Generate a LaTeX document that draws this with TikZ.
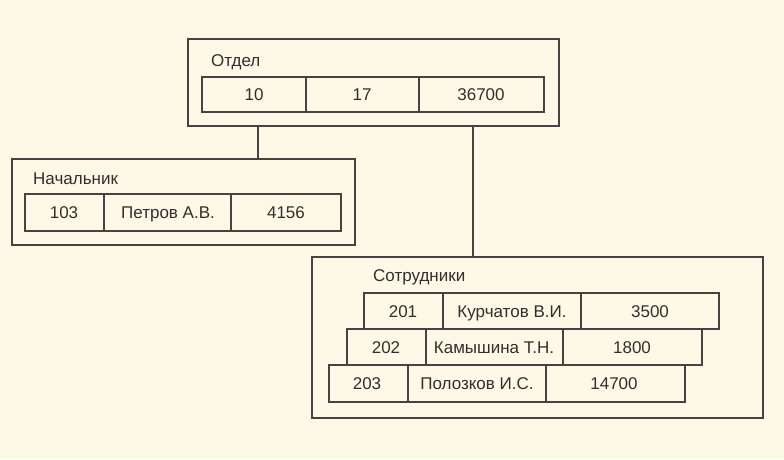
\documentclass[tikz,border=0pt]{standalone}
\usepackage{fontspec}
\setmainfont{Liberation Sans}
\definecolor{paper}{HTML}{FCFAE6}
\definecolor{ink}{HTML}{4A4242}
\definecolor{txt}{HTML}{332D2D}
\begin{document}
\begin{tikzpicture}[x=1pt,y=-1pt,
  frame/.style={draw=ink,line width=1.6pt},
  cellbox/.style={draw=ink,line width=1.3pt},
  conn/.style={draw=ink,line width=1.5pt},
  lbl/.style={text=txt,font=\fontsize{17}{19}\selectfont,anchor=base west,inner sep=0pt},
  val/.style={text=txt,font=\fontsize{17}{19}\selectfont,anchor=base,inner sep=0pt}]
\fill[paper] (0,0) rectangle (784,459);
\useasboundingbox (0,0) rectangle (784,459);
% Отдел
\coordinate (o1) at (188,39); \coordinate (o2) at (559,126);
\draw[frame] (o1) rectangle (o2);
\node[lbl] (otl) at (211,66) {Отдел};
\draw[cellbox] (202,77) rectangle (544,112);
\draw[cellbox] (306,77) -- (306,112) (419,77) -- (419,112);
\node[val] (o10) at (254,100.6) {10};
\node[val] (o17) at (362,100.6) {17};
\node[val] (o36) at (481,100.6) {36700};
% Начальник
\coordinate (n1) at (12,159); \coordinate (n2) at (355,245);
\draw[frame] (n1) rectangle (n2);
\node[lbl] (ntl) at (33,184) {Начальник};
\draw[cellbox] (25,194) rectangle (341,231);
\draw[cellbox] (104,194) -- (104,231) (231,194) -- (231,231);
\node[val] (n103) at (64,218.6) {103};
\node[val] (nname) at (168,218.6) {Петров А.В.};
\node[val] (nsal) at (286,218.6) {4156};
% Сотрудники
\coordinate (s1) at (312,257); \coordinate (s2) at (763,418);
\draw[frame] (s1) rectangle (s2);
\node[lbl] (stl) at (373,281) {Сотрудники};
\draw[cellbox] (364,293) rectangle (719,329);
\draw[cellbox] (443,293) -- (443,329) (581,293) -- (581,329);
\node[val] (r1a) at (403,317) {201};
\node[val] (r1b) at (512,317) {Курчатов В.И.};
\node[val] (r1c) at (650,317) {3500};
\draw[cellbox] (347,329) rectangle (702,365);
\draw[cellbox] (426,329) -- (426,365) (563,329) -- (563,365);
\node[val] (r2a) at (386,353) {202};
\node[val] (r2b) at (494,353) {Камышина Т.Н.};
\node[val] (r2c) at (632,353) {1800};
\draw[cellbox] (329,365) rectangle (685,402);
\draw[cellbox] (408,365) -- (408,402) (546,365) -- (546,402);
\node[val] (r3a) at (367,389.6) {203};
\node[val] (r3b) at (477,389.6) {Полозков И.С.};
\node[val] (r3c) at (614,389.6) {14700};
% connectors
\coordinate (c1t) at (258,126); \coordinate (c1b) at (258,159);
\coordinate (c2t) at (473,126); \coordinate (c2b) at (473,257);
\draw[conn] (c1t) -- (c1b);
\draw[conn] (c2t) -- (c2b);
\end{tikzpicture}
\end{document}
